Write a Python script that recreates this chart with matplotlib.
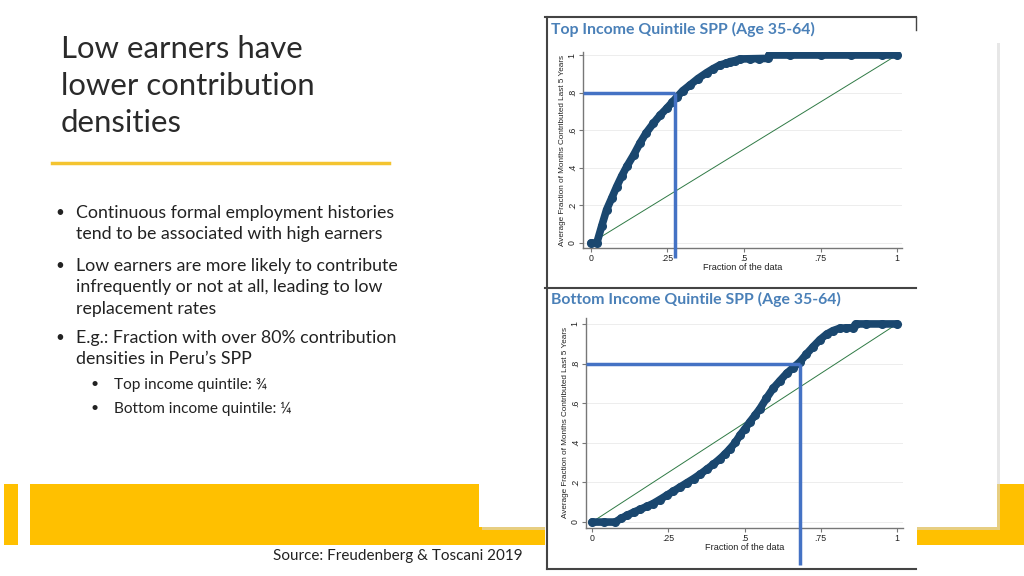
import matplotlib
matplotlib.use("Agg")
import matplotlib.pyplot as plt
from matplotlib.patches import Rectangle
import numpy as np

# ---------------- data ----------------
top_x = [0.0, 0.019, 0.035, 0.051, 0.068, 0.084, 0.10, 0.117, 0.14, 0.16, 0.18, 0.204, 0.226,
         0.248, 0.265, 0.28, 0.30, 0.324, 0.35, 0.378, 0.40, 0.422, 0.44, 0.455, 0.47, 0.487,
         0.52, 0.55, 0.578, 0.582, 0.65, 0.75, 0.85, 0.95, 1.0]
top_y = [0.0, 0.0, 0.09, 0.177, 0.24, 0.30, 0.355, 0.407, 0.47, 0.531, 0.585, 0.637, 0.68,
         0.717, 0.748, 0.775, 0.81, 0.841, 0.875, 0.906, 0.928, 0.947, 0.955, 0.965, 0.97, 0.979,
         0.98, 0.981, 0.982, 1.0, 1.0, 1.0, 1.0, 1.0, 1.0]

bot_x = [0.0, 0.04, 0.076, 0.095, 0.115, 0.137, 0.158, 0.18, 0.20, 0.222, 0.245, 0.267, 0.289,
         0.311, 0.333, 0.355, 0.376, 0.398, 0.42, 0.437, 0.453, 0.47, 0.485, 0.502, 0.518,
         0.535, 0.551, 0.572, 0.594, 0.616, 0.638, 0.66, 0.682, 0.703, 0.725, 0.747, 0.769,
         0.79, 0.812, 0.834, 0.856, 0.864, 0.90, 0.95, 1.0]
bot_y = [0.0, 0.0, 0.0, 0.018, 0.034, 0.05, 0.064, 0.079, 0.093, 0.113, 0.135, 0.156, 0.177,
         0.198, 0.219, 0.242, 0.266, 0.292, 0.32, 0.345, 0.371, 0.402, 0.438, 0.472, 0.506,
         0.54, 0.573, 0.625, 0.675, 0.713, 0.75, 0.78, 0.809, 0.848, 0.885, 0.92, 0.948,
         0.966, 0.978, 0.98, 0.981, 1.0, 1.0, 1.0, 1.0]

threshold = 0.8
top_share_cross = 0.275
bot_share_cross = 0.683

y_ticks = [0, 0.2, 0.4, 0.6, 0.8, 1.0]
y_tick_labels = ["0", ".2", ".4", ".6", ".8", "1"]
x_ticks = [0, 0.25, 0.5, 0.75, 1.0]
x_tick_labels = ["0", ".25", ".5", ".75", "1"]

chart_titles = ["Top Income Quintile SPP (Age 35-64)", "Bottom Income Quintile SPP (Age 35-64)"]
y_label = "Average Fraction of Months Contributed Last 5 Years"
x_label = "Fraction of the data"

slide_title = "Low earners have\nlower contribution\ndensities"
bullets = [
    "Continuous formal employment histories\ntend to be associated with high earners",
    "Low earners are more likely to contribute\ninfrequently or not at all, leading to low\nreplacement rates",
    "E.g.: Fraction with over 80% contribution\ndensities in Peru\u2019s SPP",
]
sub_bullets = ["Top income quintile: \u00be", "Bottom income quintile: \u00bc"]
source = "Source: Freudenberg & Toscani 2019"

# ---------------- figure ----------------
W, H = 1024, 576
fig = plt.figure(figsize=(W / 100, H / 100), dpi=100)
fig.patch.set_facecolor("white")

def px(x, y, w, h):
    return (x / W, 1 - (y + h) / H, w / W, h / H)

def rect(x, y, w, h, color, z=0, **kw):
    r = Rectangle((x / W, 1 - (y + h) / H), w / W, h / H, transform=fig.transFigure,
                  facecolor=color, edgecolor="none", zorder=z, **kw)
    fig.add_artist(r)
    return r

YEL = "#FFC000"
rect(4, 484, 14, 61, YEL, z=0)
rect(30, 484, 994, 61, YEL, z=0)
rect(482, 43, 518, 487, "#d8d8d8", z=1, alpha=0.6)
rect(479, 40, 518, 487, "white", z=2)
rect(545, 15, 372, 555, "white", z=3)

def hline(x0, x1, y, color="#444444", lw=1.5, z=4):
    fig.add_artist(plt.Line2D([x0 / W, x1 / W], [1 - y / H, 1 - y / H], transform=fig.transFigure,
                              color=color, lw=lw, zorder=z))
def vline(x, y0, y1, color="#444444", lw=1.5, z=4):
    fig.add_artist(plt.Line2D([x / W, x / W], [1 - y0 / H, 1 - y1 / H], transform=fig.transFigure,
                              color=color, lw=lw, zorder=z))

hline(545, 916, 17)
vline(916, 17, 30, lw=1.0)
vline(547, 17, 569)
hline(545, 916, 288)
hline(547, 916, 569)

# ---------------- left text ----------------
fig.text(61 / W, 1 - 35 / H, slide_title, fontsize=22.4, family="Lato", fontweight="normal",
         color="#2a2a2a", va="top", ha="left", linespacing=1.39, zorder=5)
hline(52, 389, 163, color="#F4C430", lw=2.5, z=5)

bullet_y = [205, 258, 330]
for by, b in zip(bullet_y, bullets):
    fig.text(55 / W, 1 - (by + 1) / H, "\u2022", fontsize=11, family="Lato", color="#222222",
             va="top", ha="left")
    fig.text(76 / W, 1 - by / H, b, fontsize=12.8, family="Lato", color="#222222",
             va="top", ha="left", linespacing=1.42)
sub_y = [378, 402]
for sy, s in zip(sub_y, sub_bullets):
    fig.text(90 / W, 1 - sy / H, "\u2022", fontsize=10, family="Lato", color="#222222",
             va="top", ha="left")
    fig.text(114 / W, 1 - sy / H, s, fontsize=11.1, family="Lato", color="#222222",
             va="top", ha="left")

fig.text(398 / W, 1 - 556 / H, source, fontsize=11, family="Lato", color="#222222",
         va="center", ha="center")

# ---------------- charts ----------------
NAVY = "#1a476f"
GREEN = "#2f7a45"
BLUE = "#4472C4"
TITLE_C = "#4a80b8"

specs = [
    dict(data=(top_x, top_y), cross=top_share_cross, spine=(583, 902, 52, 248),
         xlim=(-0.0261, 1.0163), ylim=(-0.0266, 1.016), vdown=-0.08, title_y=29),
    dict(data=(bot_x, bot_y), cross=bot_share_cross, spine=(586, 903, 318, 528),
         xlim=(-0.0197, 1.0197), ylim=(-0.030, 1.03), vdown=-0.217, title_y=299),
]

for i, sp in enumerate(specs):
    l, r, t, b = sp["spine"]
    ax = fig.add_axes(px(l, t, r - l, b - t), zorder=6)
    ax.set_facecolor("none")
    ax.set_xlim(*sp["xlim"])
    ax.set_ylim(*sp["ylim"])
    for s in ["top", "right"]:
        ax.spines[s].set_visible(False)
    for s in ["left", "bottom"]:
        ax.spines[s].set_color("#777777")
        ax.spines[s].set_linewidth(1.0)
    ax.set_yticks(y_ticks)
    ax.set_yticklabels(y_tick_labels, rotation=90, va="center", fontsize=6.3,
                       family="Liberation Sans", color="#222222")
    ax.set_xticks(x_ticks)
    ax.set_xticklabels(x_tick_labels, fontsize=6.3, family="Liberation Sans", color="#222222")
    ax.tick_params(axis="both", length=3, width=0.8, color="#777777", pad=1.5)
    ax.yaxis.grid(True, color="#eaeaea", lw=0.6)
    ax.set_axisbelow(True)
    ax.set_ylabel(y_label, fontsize=5.9, family="Liberation Sans", color="#222222", labelpad=1)
    ax.set_xlabel(x_label, fontsize=6.6, family="Liberation Sans", color="#222222", labelpad=0)

    ax.plot([0, 1], [0, 1], color=GREEN, lw=0.7, zorder=2)
    xs, ys = sp["data"]
    ax.plot(xs, ys, color=NAVY, lw=5.5, solid_capstyle="round", solid_joinstyle="round",
            marker="o", ms=5.5, mec=NAVY, mfc=NAVY, zorder=3)

    ax.plot([sp["xlim"][0], sp["cross"]], [threshold, threshold], color=BLUE, lw=2.5,
            zorder=4, clip_on=False, solid_capstyle="butt")
    ax.plot([sp["cross"], sp["cross"]], [threshold, sp["vdown"]], color=BLUE, lw=2.5,
            zorder=4, clip_on=False, solid_capstyle="butt")

    fig.text(551 / W, 1 - sp["title_y"] / H, chart_titles[i], fontsize=11.4, family="Lato",
             fontweight="bold", color=TITLE_C, va="center", ha="left", zorder=7)

fig.savefig("out.png", dpi=100, facecolor="white")
